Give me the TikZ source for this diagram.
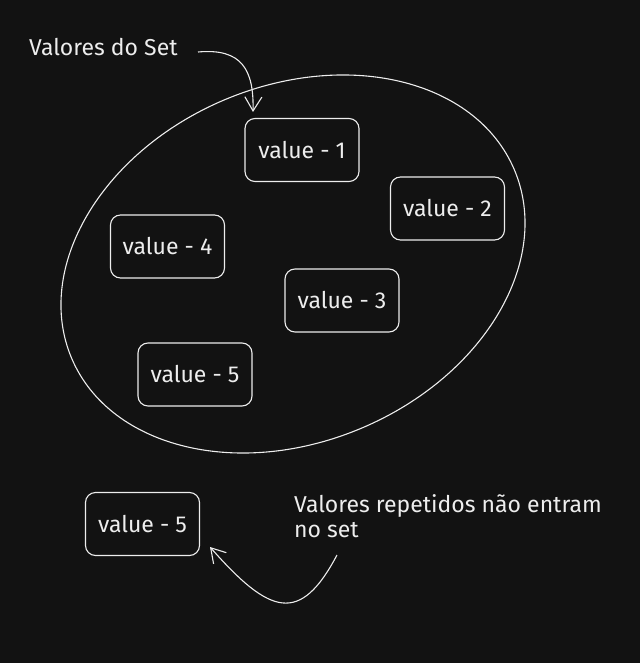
\documentclass[tikz,border=0pt]{standalone}
\usepackage{fontspec}
\setmainfont{Fira Sans}
\usetikzlibrary{arrows.meta}
\definecolor{bg}{HTML}{121212}
\definecolor{ink}{HTML}{EDEDED}
\begin{document}
\begin{tikzpicture}[x=1pt,y=-1pt,
  valbox/.style={draw=ink, line width=1.1pt, rounded corners=10pt, minimum width=114pt, minimum height=63pt, text=ink, font=\fontsize{23}{26}\selectfont, inner sep=0pt},
  lbl/.style={text=ink, font=\fontsize{23}{25}\selectfont, inner sep=0pt},
  sketch/.style={draw=ink, line width=1.1pt},
  arr/.style={sketch, -{Straight Barb[length=14pt,width=17pt,line width=1.1pt]}}
]
\fill[bg] (0,0) rectangle (640,663);
\useasboundingbox (0,0) rectangle (640,663);
% set ellipse
\coordinate (c) at (293,264);
\draw[sketch, rotate around={23.2:(c)}] (c) ellipse [x radius=240.6, y radius=177.9];
% values
\node[valbox] (v1) at (302,150) {value - 1};
\node[valbox] (v2) at (447.5,208.5) {value - 2};
\node[valbox] (v4) at (167.5,246.5) {value - 4};
\node[valbox] (v3) at (342,300.5) {value - 3};
\node[valbox] (v5) at (195,374.5) {value - 5};
\node[valbox] (v5r) at (142.5,524) {value - 5};
% labels
\node[lbl, anchor=west] (t1) at (29,47) {Valores do Set};
\node[lbl, anchor=north west, align=left] (t2) at (294,494) {Valores repetidos não entram\\no set};
% arrows
\coordinate (a1s) at (198,52);
\coordinate (a1e) at (253,112);
\draw[arr] (a1s) .. controls (242,48) and (254,70) .. (a1e);
\coordinate (a2s) at (337,555);
\coordinate (a2e) at (210,547);
\draw[arr] (a2s) .. controls (300,625) and (270,615) .. (a2e);
\end{tikzpicture}
\end{document}
